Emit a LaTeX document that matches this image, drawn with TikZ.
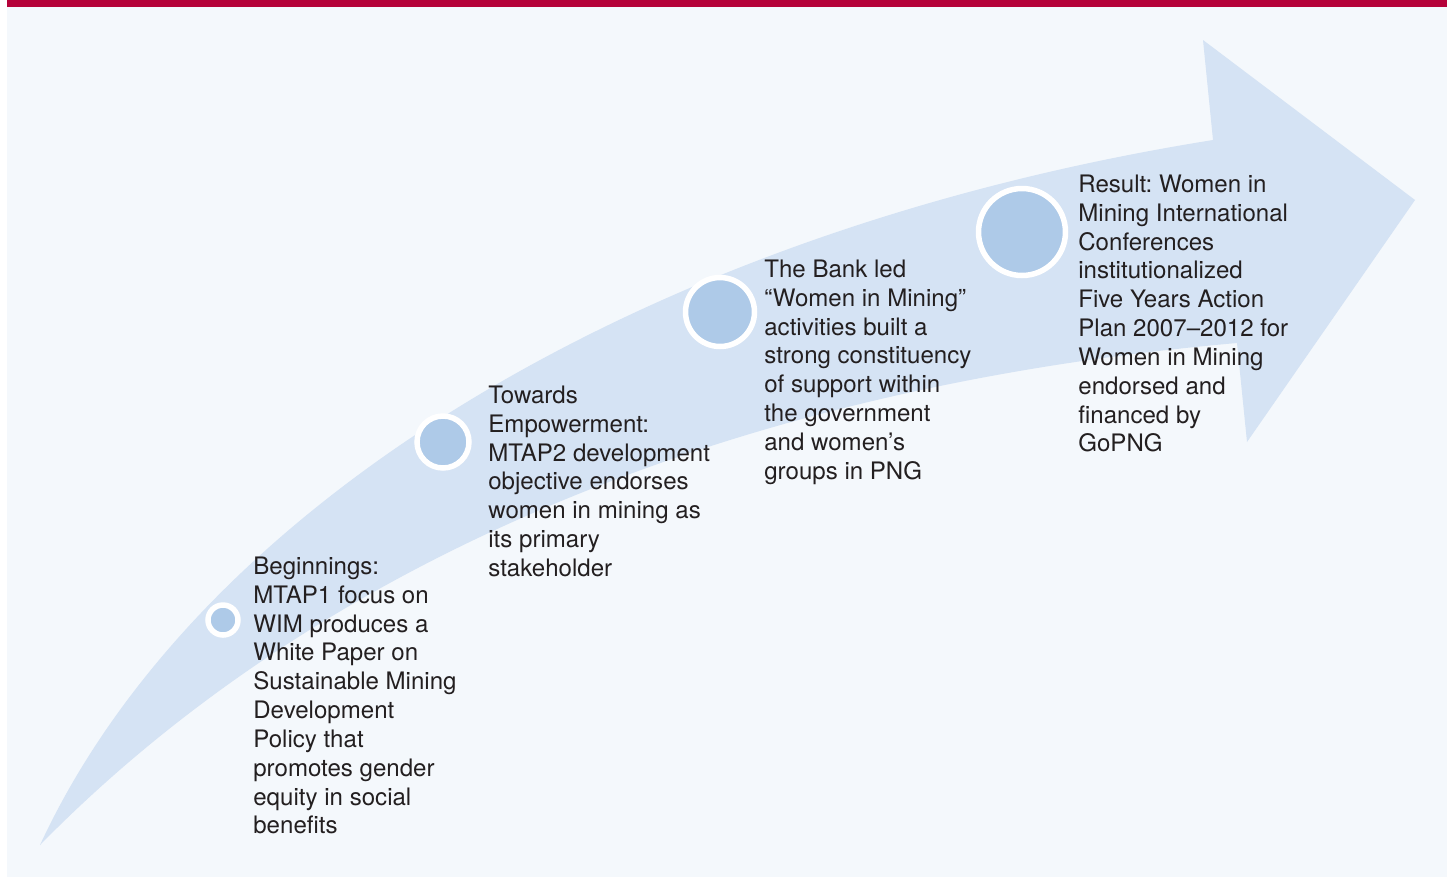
\documentclass[tikz,border=0pt]{standalone}
\usepackage{fontspec}
\setmainfont{TeX Gyre Heros}
\usetikzlibrary{positioning}
\definecolor{bandred}{HTML}{B5023A}
\definecolor{panelbg}{HTML}{F4F8FC}
\definecolor{arrowblue}{HTML}{D5E3F4}
\definecolor{dotblue}{HTML}{AECAE8}
\definecolor{textgray}{HTML}{231F20}
\frenchspacing

\begin{document}
\begin{tikzpicture}[x=0.02cm, y=-0.02cm]
    \tikzset{
        stage_dot/.style={circle, fill=dotblue, draw=white, line width=0.11cm, inner sep=0pt},
        stage_text/.style={anchor=north west, inner sep=0pt, align=left, text=textgray,
            font=\fontsize{13.7}{16.4}\selectfont}
    }
    \useasboundingbox (0,0) rectangle (1453,877);
    \fill[white] (0,0) rectangle (1453,877);
    \fill[panelbg] (7,7) rectangle (1447,877);
    \fill[bandred] (7,0) rectangle (1447,7);

    % curved arrow
    \coordinate (tail) at (40,845);
    \coordinate (notch_up) at (1213,140);
    \coordinate (barb_up) at (1203,40);
    \coordinate (tip) at (1415,200);
    \coordinate (barb_low) at (1247,442);
    \coordinate (notch_low) at (1237,343);
    \fill[arrowblue] (tail)
        .. controls (200,500) and (650,230) .. (notch_up)
        -- (barb_up) -- (tip) -- (barb_low) -- (notch_low)
        .. controls (700,390) and (300,580) .. (tail) -- cycle;

    % milestones
    \node[stage_dot, minimum size=0.6cm] (dot1) at (223,620) {};
    \node[stage_dot, minimum size=1.04cm] (dot2) at (443,442) {};
    \node[stage_dot, minimum size=1.38cm] (dot3) at (720,312) {};
    \node[stage_dot, minimum size=1.74cm] (dot4) at (1022,232) {};

    \node[stage_text] (text1) at (253,554) {\strut Beginnings:\\MTAP1 focus on\\WIM produces a\\White Paper on\\Sustainable Mining\\Development\\Policy that\\promotes gender\\equity in social\\benefits};
    \node[stage_text] (text2) at (488,383) {\strut Towards\\Empowerment:\\MTAP2 development\\objective endorses\\women in mining as\\its primary\\stakeholder};
    \node[stage_text] (text3) at (764,257) {\strut The Bank led\\“Women in Mining”\\activities built a\\strong constituency\\of support within\\the government\\and women’s\\groups in PNG};
    \node[stage_text] (text4) at (1078,172) {\strut Result: Women in\\Mining International\\Conferences\\institutionalized\\Five Years Action\\Plan 2007–2012 for\\Women in Mining\\endorsed and\\financed by\\GoPNG};
\end{tikzpicture}
\end{document}
